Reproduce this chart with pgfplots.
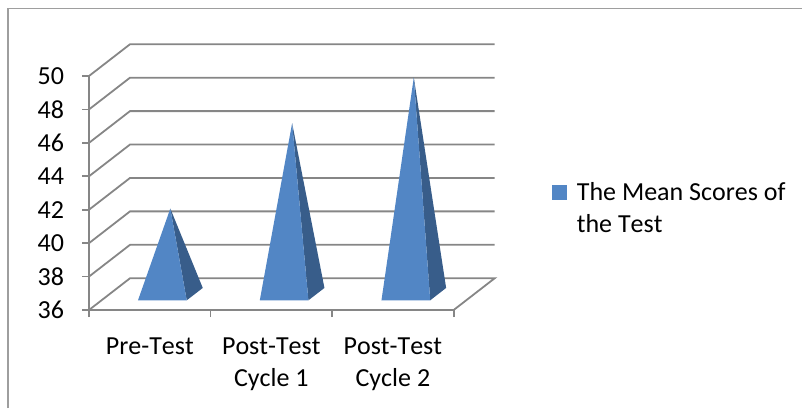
\documentclass[border=0pt]{standalone}
\usepackage{pgfplots}
\pgfplotsset{compat=1.18}
\usepackage{fontspec}
\setmainfont[Kerning=Off]{Carlito}
\definecolor{gridg}{HTML}{868686}
\definecolor{front}{HTML}{5286C5}
\definecolor{side}{HTML}{385D8A}
\begin{document}
\begin{tikzpicture}
\useasboundingbox (0pt,0pt) rectangle (601.5pt,306pt);
\draw[color=gridg!80,line width=1pt] (6.1pt,0pt) -- (6.1pt,299.6pt) -- (601.5pt,299.6pt);
\begin{axis}[
  at={(66.75pt,73.5pt)},anchor=origin,
  scale only axis,width=273.5pt,height=175.5pt,
  xmin=0,xmax=3,ymin=36,ymax=50,
  clip=false,
  axis lines*=left,
  axis line style={-,color=gridg,line width=1.35pt},
  tick style={color=gridg,line width=1.35pt},
  tick align=outside,major tick length=5.25pt,
  ytick={36,38,40,42,44,46,48,50},
  xtick={0,1,2,3},
  x tick label as interval,
  xticklabels={Pre-Test,{Post-Test\\Cycle 1},{Post-Test\\Cycle 2}},
  xticklabel style={align=center,font=\fontsize{19.5}{24}\selectfont,yshift=-12pt},
  yticklabel style={font=\fontsize{19.5}{24}\selectfont,xshift=-10pt},
  /pgf/number format/assume math mode=true,
  legend style={at={(1.2695,0.557)},draw=none,fill=none,anchor=north west,
    font=\fontsize{19.5}{24}\selectfont,
    nodes={align=flush left,text width=170pt},inner sep=0pt},
  legend cell align=left,
  legend image code/.code={
    \path[draw=none,fill=none] (0pt,-5.25pt) rectangle (16.5pt,6pt);
    \fill[front,draw=none] (0pt,-5.25pt) rectangle (11.25pt,6pt);
  },
]
\addplot[forget plot,color=gridg,line width=1.35pt] coordinates {(0,36) (0.3374,37.9) (3.3374,37.9) (3,36)};
\addplot[forget plot,color=gridg,line width=1.35pt] coordinates {(0,38) (0.3374,39.9) (3.3374,39.9)};
\addplot[forget plot,color=gridg,line width=1.35pt] coordinates {(0,40) (0.3374,41.9) (3.3374,41.9)};
\addplot[forget plot,color=gridg,line width=1.35pt] coordinates {(0,42) (0.3374,43.9) (3.3374,43.9)};
\addplot[forget plot,color=gridg,line width=1.35pt] coordinates {(0,44) (0.3374,45.9) (3.3374,45.9)};
\addplot[forget plot,color=gridg,line width=1.35pt] coordinates {(0,46) (0.3374,47.9) (3.3374,47.9)};
\addplot[forget plot,color=gridg,line width=1.35pt] coordinates {(0,48) (0.3374,49.9) (3.3374,49.9)};
\addplot[forget plot,color=gridg,line width=1.35pt] coordinates {(0,50) (0.3374,51.9) (3.3374,51.9)};
% pyramids
\addplot[forget plot,fill=side,draw=none] coordinates {(0.669,42.07) (0.804,36.58) (0.936,37.32)} -- cycle;
\addplot[forget plot,fill=front,draw=none] coordinates {(0.669,42.07) (0.403,36.58) (0.804,36.58)} -- cycle;
\addplot[forget plot,fill=side,draw=none] coordinates {(1.671,47.18) (1.805,36.58) (1.937,37.32)} -- cycle;
\addplot[forget plot,fill=front,draw=none] coordinates {(1.671,47.18) (1.405,36.58) (1.805,36.58)} -- cycle;
\addplot[forget plot,fill=side,draw=none] coordinates {(2.672,49.91) (2.807,36.58) (2.938,37.32)} -- cycle;
\addplot[forget plot,fill=front,draw=none] coordinates {(2.672,49.91) (2.406,36.58) (2.807,36.58)} -- cycle;
\addlegendimage{}
\addlegendentry{The Mean Scores of\\the Test}
\end{axis}
\end{tikzpicture}
\end{document}
